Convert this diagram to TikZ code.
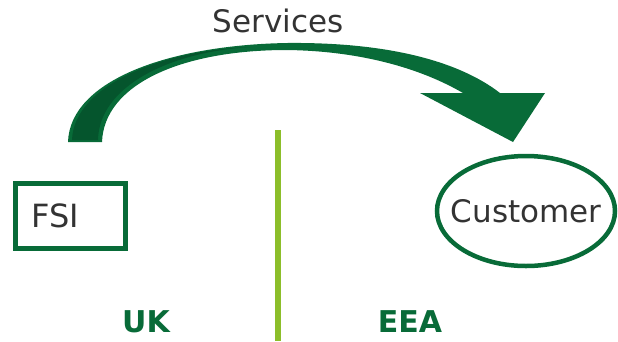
\documentclass[tikz,border=0pt]{standalone}
\usepackage{fontspec}
\setmainfont{DejaVu Sans}
\usepackage{xcolor}
\usetikzlibrary{shapes.geometric}

\definecolor{ukgreen}{HTML}{086B38}
\definecolor{darkgreen}{HTML}{05552D}
\definecolor{limegreen}{HTML}{8CBE2A}
\definecolor{textgray}{HTML}{333333}

\begin{document}
\begin{tikzpicture}[
  x=1pt, y=-1pt,
  label/.style={text=textgray, font=\fontsize{31}{36}\selectfont, inner sep=0pt},
  region/.style={text=ukgreen, font=\fontsize{30}{36}\selectfont\bfseries, inner sep=0pt},
  box/.style={draw=ukgreen, line width=5pt, minimum width=110pt, minimum height=65pt,
    inner xsep=16pt, text width=78pt, align=left, text=textgray,
    font=\fontsize{32}{36}\selectfont},
  oval/.style={ellipse, draw=ukgreen, line width=4.5pt, minimum width=178pt,
    minimum height=110pt, inner xsep=-20pt, inner ysep=0pt, text=textgray,
    font=\fontsize{31}{36}\selectfont}
]
\useasboundingbox (0,0) rectangle (618,341);

% SERVICES ARROW
\fill[ukgreen] (68,142) .. controls (70,80) and (170,45) .. (287,43)
  .. controls (390,42) and (460,62) .. (500,93)
  -- (545,93) -- (513,142) -- (420,93) -- (463,93)
  .. controls (420,68) and (360,51) .. (287,50)
  .. controls (180,50) and (104,85) .. (102,142) -- cycle;
\fill[darkgreen] (72,140) .. controls (74,84) and (165,50) .. (250,47)
  .. controls (170,52) and (99,86) .. (98,140) -- cycle;
\node[label] (services) at (278,21) {Services};

% DIVIDER
\coordinate (divtop) at (278,130);
\coordinate (divbot) at (278,341);
\draw[limegreen, line width=6pt] (divtop) -- (divbot);

% PARTIES
\node[box] (fsi) at (70.5,216) {FSI};
\node[oval] (customer) at (526,211) {Customer};

% REGIONS
\node[region] (uk) at (146,322) {UK};
\node[region] (eea) at (410,322) {EEA};

\end{tikzpicture}
\end{document}
